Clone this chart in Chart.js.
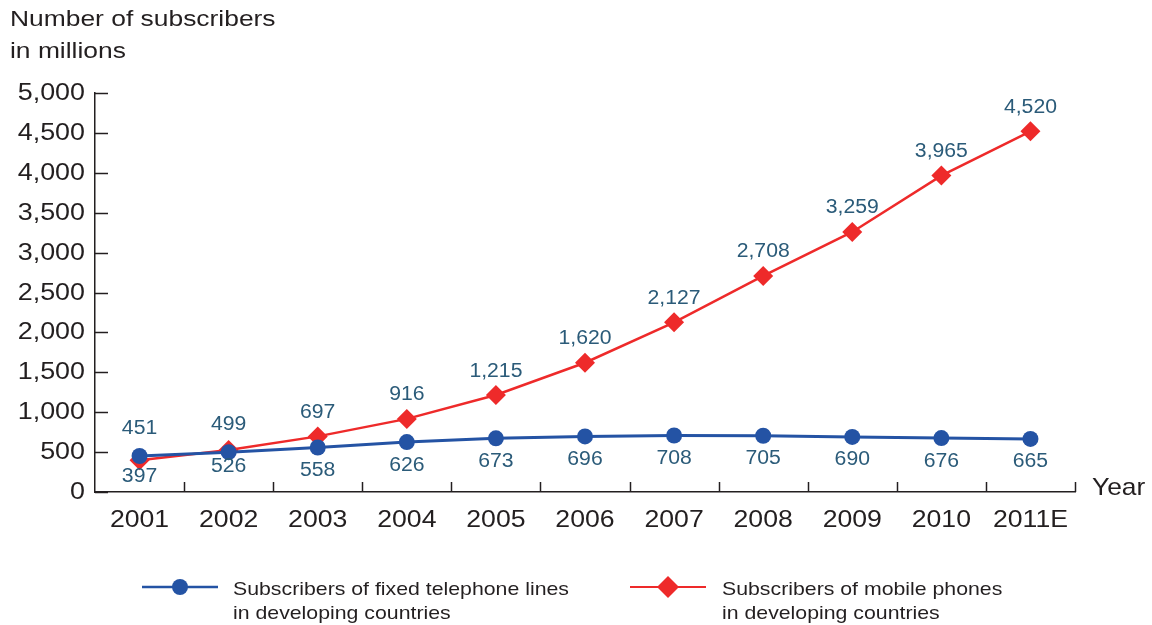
<!DOCTYPE html>
<html>
<head>
<meta charset="utf-8">
<script src="https://cdn.jsdelivr.net/npm/chart.js@4"></script>
<style>
  html, body { margin: 0; padding: 0; background: #fff; }
  #wrap { width: 1152px; height: 625px; position: relative; }
</style>
</head>
<body>
<div id="wrap"><canvas id="grafico"></canvas></div>
<script>
// datos: abonados en millones
const years = ['2001', '2002', '2003', '2004', '2005', '2006', '2007', '2008', '2009', '2010', '2011E'];
const fixedLines = [451, 499, 558, 626, 673, 696, 708, 705, 690, 676, 665];
const mobilePhones = [397, 526, 697, 916, 1215, 1620, 2127, 2708, 3259, 3965, 4520];
const yTicks = [0, 500, 1000, 1500, 2000, 2500, 3000, 3500, 4000, 4500, 5000];

const FONT = '"Liberation Sans", Arial, sans-serif';
const INK = '#231f20';
const BLUE = '#2453a4';
const RED = '#ee2a2a';
const LABEL = '#2b5b79';

const fmt = v => v.toLocaleString('en-US');

// texto algo ensanchado en horizontal
function texto(ctx, str, x, y, sx) {
    ctx.save();
    ctx.translate(x, y);
    ctx.scale(sx, 1);
    ctx.fillText(str, 0, 0);
    ctx.restore();
}

// ticks hacia dentro, textos y leyenda
const extras = {
    id: 'extras',
    afterDraw(chart) {
        const ctx = chart.ctx;
        const x = chart.scales.x, y = chart.scales.y;
        const area = chart.chartArea;
        ctx.save();
        ctx.strokeStyle = INK;
        ctx.lineWidth = 1.5;
        ctx.textBaseline = 'middle';

        // eje y: ticks y numeros
        ctx.font = '24px ' + FONT;
        ctx.fillStyle = INK;
        ctx.textAlign = 'right';
        yTicks.forEach(v => {
            const py = Math.round(y.getPixelForValue(v)) + 0.5;
            ctx.beginPath();
            ctx.moveTo(area.left, py);
            ctx.lineTo(area.left + 13, py);
            ctx.stroke();
            texto(ctx, fmt(v), area.left - 10, py, 1.12);
        });

        // eje x: ticks entre categorias y años
        const step = x.getPixelForValue(1) - x.getPixelForValue(0);
        ctx.textAlign = 'center';
        years.forEach((yr, i) => {
            const cx = x.getPixelForValue(i);
            const px = Math.round(cx + step / 2) + 0.5;
            ctx.beginPath();
            ctx.moveTo(px, area.bottom);
            ctx.lineTo(px, area.bottom - 10);
            ctx.stroke();
            texto(ctx, yr, cx, area.bottom + 28, 1.11);
        });

        // etiquetas de valores
        ctx.font = '20px ' + FONT;
        ctx.fillStyle = LABEL;
        const metaBlue = chart.getDatasetMeta(0);
        const metaRed = chart.getDatasetMeta(1);
        metaBlue.data.forEach((pt, i) => {
            const dy = i < 2 ? -28 : 23;
            texto(ctx, fmt(fixedLines[i]), pt.x, pt.y + dy, 1.06);
        });
        metaRed.data.forEach((pt, i) => {
            const dy = i < 2 ? 16 : -24;
            texto(ctx, fmt(mobilePhones[i]), pt.x, pt.y + dy, 1.06);
        });

        // titulo del eje y y "Year"
        ctx.fillStyle = INK;
        ctx.textAlign = 'left';
        ctx.font = '22px ' + FONT;
        texto(ctx, 'Number of subscribers', 10, 20, 1.2);
        texto(ctx, 'in millions', 10, 52, 1.2);
        ctx.font = '24px ' + FONT;
        texto(ctx, 'Year', 1092, area.bottom - 4, 1.1);

        // leyenda
        const ly = 587;
        ctx.lineWidth = 2.5;
        ctx.strokeStyle = BLUE;
        ctx.beginPath(); ctx.moveTo(142, ly); ctx.lineTo(218, ly); ctx.stroke();
        ctx.fillStyle = BLUE;
        ctx.beginPath(); ctx.arc(180, ly, 8, 0, Math.PI * 2); ctx.fill();
        ctx.lineWidth = 2;
        ctx.strokeStyle = RED;
        ctx.beginPath(); ctx.moveTo(630, ly); ctx.lineTo(706, ly); ctx.stroke();
        ctx.fillStyle = RED;
        ctx.beginPath();
        ctx.moveTo(668, ly - 11); ctx.lineTo(679, ly); ctx.lineTo(668, ly + 11); ctx.lineTo(657, ly);
        ctx.closePath(); ctx.fill();

        ctx.fillStyle = INK;
        ctx.font = '19px ' + FONT;
        texto(ctx, 'Subscribers of fixed telephone lines', 233, 590, 1.12);
        texto(ctx, 'in developing countries', 233, 614, 1.12);
        texto(ctx, 'Subscribers of mobile phones', 722, 590, 1.12);
        texto(ctx, 'in developing countries', 722, 614, 1.12);
        ctx.restore();
    }
};

const ctx = document.getElementById('grafico').getContext('2d');
new Chart(ctx, {
    type: 'line',
    data: {
        labels: years,
        datasets: [{
            label: 'Subscribers of fixed telephone lines in developing countries',
            data: fixedLines,
            borderColor: BLUE,
            backgroundColor: BLUE,
            borderWidth: 3,
            pointStyle: 'circle',
            pointRadius: 8,
            pointBorderWidth: 0,
            tension: 0
        }, {
            label: 'Subscribers of mobile phones in developing countries',
            data: mobilePhones,
            borderColor: RED,
            backgroundColor: RED,
            borderWidth: 2.5,
            pointStyle: 'rectRot',
            pointRadius: 10,
            pointBorderWidth: 0,
            tension: 0
        }]
    },
    options: {
        responsive: true,
        maintainAspectRatio: false,
        animation: false,
        events: [],
        layout: { padding: { left: 0, right: 77, top: 93, bottom: 83 } },
        plugins: {
            legend: { display: false },
            tooltip: { enabled: false }
        },
        scales: {
            x: {
                offset: true,
                grid: { display: false, drawTicks: false },
                border: { display: true, color: INK, width: 1.5 },
                ticks: { display: false },
                afterFit: s => { s.height = 50; }
            },
            y: {
                min: 0,
                max: 5000,
                afterBuildTicks: s => { s.ticks = yTicks.map(v => ({ value: v })); },
                grid: { display: false, drawTicks: false },
                border: { display: true, color: INK, width: 1.5 },
                ticks: { display: false },
                afterFit: s => { s.width = 95; }
            }
        }
    },
    plugins: [extras]
});
</script>
</body>
</html>
